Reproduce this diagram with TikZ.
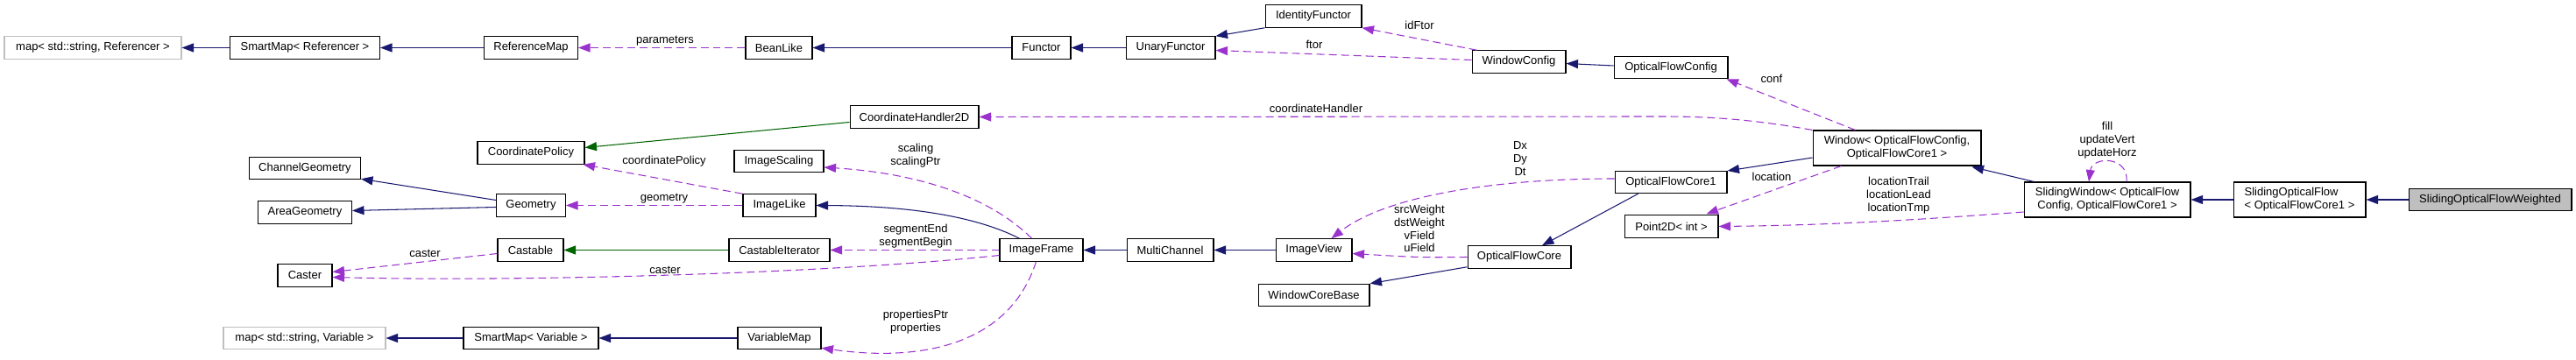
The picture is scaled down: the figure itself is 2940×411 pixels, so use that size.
\documentclass[tikz,border=0pt]{standalone}
\usepackage{fontspec}
\setmainfont{Liberation Sans}
\usepackage{tikz}
\usetikzlibrary{arrows.meta,calc}
\definecolor{edgeblue}{RGB}{25,25,112}
\definecolor{edgepurple}{RGB}{154,50,205}
\definecolor{edgegreen}{RGB}{0,100,0}
\definecolor{boxgrey}{RGB}{191,191,191}
\newcommand{\dxfont}{\fontsize{7.4}{8.4}\selectfont}
\tikzset{
  cls/.style={draw=black, line width=0.6pt, fill=white, inner sep=0pt,
              minimum height=0.51cm, align=center, font=\dxfont},
  extcls/.style={cls, draw=boxgrey},
  focuscls/.style={cls, fill=boxgrey},
  elabel/.style={font=\dxfont, align=center, inner sep=0pt},
  tip/.style={-{Triangle[length=0.27cm,width=0.2cm]}},
  inherit/.style={tip, draw=edgeblue, line width=0.6pt},
  templ/.style={tip, draw=edgegreen, line width=0.6pt},
  member/.style={tip, draw=edgepurple, line width=0.6pt,
                 dash pattern=on 0.18cm off 0.1cm},
}

\begin{document}
\begin{tikzpicture}[x=0.02cm,y=-0.02cm]
  \path[use as bounding box] (0,0) rectangle (2940,411);

  \node[extcls, minimum width=4.04cm] (MAPREF) at (106,54.5) {map< std::string, Referencer >};
  \node[cls, minimum width=3.42cm] (SMREF) at (348,54.5) {SmartMap< Referencer >};
  \node[cls, minimum width=2.14cm] (REFMAP) at (606,54.5) {ReferenceMap};
  \node[cls, minimum width=1.52cm] (BEAN) at (889,54.5) {BeanLike};
  \node[cls, minimum width=1.34cm] (FUNCTOR) at (1188.5,54.5) {Functor};
  \node[cls, minimum width=2.04cm] (UNARY) at (1336,54.5) {UnaryFunctor};
  \node[cls, minimum width=2.2cm] (IDFTOR) at (1499,18.5) {IdentityFunctor};
  \node[cls, minimum width=2.14cm] (WCONFIG) at (1733.5,70.5) {WindowConfig};
  \node[cls, minimum width=2.6cm] (OFCONFIG) at (1907,77) {OpticalFlowConfig};
  \node[cls, minimum width=2.94cm] (CHANDLER) at (1043.5,133.5) {CoordinateHandler2D};
  \node[cls, minimum width=2.44cm] (CPOLICY) at (606,174.5) {CoordinatePolicy};
  \node[cls, minimum width=2.54cm] (CHANGEOM) at (348,192) {ChannelGeometry};
  \node[cls, minimum width=2.14cm] (AREAGEOM) at (348,242.5) {AreaGeometry};
  \node[cls, minimum width=1.58cm] (GEOM) at (606,234.5) {Geometry};
  \node[cls, minimum width=2.04cm] (SCALING) at (889,184) {ImageScaling};
  \node[cls, minimum width=1.66cm] (IMGLIKE) at (889.5,234.5) {ImageLike};
  \node[cls, minimum width=1.24cm] (CASTER) at (348,314.5) {Caster};
  \node[cls, minimum width=1.5cm] (CASTABLE) at (605.5,285.5) {Castable};
  \node[cls, minimum width=2.3cm] (CASTITER) at (889.5,285.5) {CastableIterator};
  \node[extcls, minimum width=3.7cm] (MAPVAR) at (347.5,386) {map< std::string, Variable >};
  \node[cls, minimum width=3.08cm] (SMVAR) at (606,386) {SmartMap< Variable >};
  \node[cls, minimum width=1.9cm] (VARMAP) at (889.5,386) {VariableMap};
  \node[cls, minimum width=1.9cm] (IMGFRAME) at (1188.5,285.5) {ImageFrame};
  \node[cls, minimum width=1.98cm] (MULTI) at (1335.5,285.5) {MultiChannel};
  \node[cls, minimum width=1.74cm] (IMGVIEW) at (1499.5,285.5) {ImageView};
  \node[cls, minimum width=2.54cm] (WCOREBASE) at (1499.5,337) {WindowCoreBase};
  \node[cls, minimum width=2.36cm] (OFCORE) at (1734,293.5) {OpticalFlowCore};
  \node[cls, minimum width=2.56cm] (OFCORE1) at (1907,208) {OpticalFlowCore1};
  \node[cls, minimum width=2.14cm] (POINT) at (1907.5,258.5) {Point2D< int >};
  \node[cls, minimum width=3.84cm, minimum height=0.8cm] (WINDOW) at (2165,169)
    {Window< OpticalFlowConfig,\\OpticalFlowCore1 >};
  \node[cls, minimum width=3.8cm, minimum height=0.8cm] (SLIDWIN) at (2405,228)
    {SlidingWindow< OpticalFlow\\Config, OpticalFlowCore1 >};
  \node[cls, minimum width=3.02cm, minimum height=0.8cm, align=left] (SLIDOF) at (2624.5,228)
    {SlidingOpticalFlow\\< OpticalFlowCore1 >};
  \node[focuscls, minimum width=3.72cm] (WEIGHTED) at (2842,228) {SlidingOpticalFlowWeighted};

  \draw[inherit] (SMREF.west) -- (MAPREF.east);
  \draw[inherit] (REFMAP.west) -- (SMREF.east);
  \draw[member] (BEAN.west) -- (REFMAP.east);
  \node[elabel] (Lparam) at (759,47) {parameters};
  \draw[inherit] (FUNCTOR.west) -- (BEAN.east);
  \draw[inherit] (UNARY.west) -- (FUNCTOR.east);
  \draw[inherit] (IDFTOR.south west) -- (UNARY.north east);
  \draw[member] ($(WCONFIG.north west)+(6,0)$) -- (IDFTOR.south east);
  \node[elabel] (LidFtor) at (1620,29) {idFtor};
  \draw[member] ($(WCONFIG.west)+(0,-2)$) -- ($(UNARY.east)+(0,3)$);
  \node[elabel] (Lftor) at (1500,51) {ftor};
  \draw[inherit] ($(OFCONFIG.west)+(0,-2)$) -- ($(WCONFIG.east)+(0,2)$);
  \draw[member] ($(WINDOW.north west)+(49,0)$) -- ($(OFCONFIG.south east)+(-2,0)$);
  \node[elabel] (Lconf) at (2022,90) {conf};
  \draw[member] (WINDOW.north west) .. controls (2010,138) and (1960,133) .. (1900,133) -- (CHANDLER.east);
  \node[elabel] (Lcoordh) at (1502,124) {coordinateHandler};
  \draw[templ] ($(CHANDLER.west)+(0,6)$) -- ($(CPOLICY.east)+(0,-6)$);
  \draw[member] (IMGLIKE.north west) -- ($(CPOLICY.south east)+(-2,0)$);
  \node[elabel] (Lcpol) at (758,184) {coordinatePolicy};
  \draw[member] (IMGLIKE.west) -- (GEOM.east);
  \node[elabel] (Lgeom) at (758,227) {geometry};
  \draw[inherit] ($(GEOM.west)+(0,-6)$) -- ($(CHANGEOM.south east)+(0,-1)$);
  \draw[inherit] ($(GEOM.west)+(0,2)$) -- ($(AREAGEOM.east)+(0,-2)$);
  \draw[inherit] ($(IMGFRAME.north)+(-25,0)$) .. controls (1110,245) and (1030,235) .. (IMGLIKE.east);
  \draw[member] ($(IMGFRAME.north)+(-11,0)$) .. controls (1130,225) and (1050,198) .. ($(SCALING.east)+(0,7)$);
  \node[elabel] (Lscal) at (1045,178) {scaling\\scalingPtr};
  \draw[member] (IMGFRAME.west) -- (CASTITER.east);
  \node[elabel] (Lseg) at (1045,270) {segmentEnd\\segmentBegin};
  \draw[templ] (CASTITER.west) -- (CASTABLE.east);
  \draw[member] ($(CASTABLE.west)+(0,4)$) -- ($(CASTER.east)+(0,-4)$);
  \node[elabel] (Lcast) at (485,289) {caster};
  \draw[member] ($(IMGFRAME.west)+(0,6)$) .. controls (950,312) and (600,322) .. ($(CASTER.east)+(0,2)$);
  \node[elabel] (Lcastb) at (759,308) {caster};
  \draw[member] ($(IMGFRAME.south)+(-6,0)$) .. controls (1150,400) and (1040,412) .. ($(VARMAP.south east)+(0,-2)$);
  \node[elabel] (Lprop) at (1045,368) {propertiesPtr\\properties};
  \draw[inherit] (VARMAP.west) -- (SMVAR.east);
  \draw[inherit] (SMVAR.west) -- (MAPVAR.east);
  \draw[inherit] (MULTI.west) -- (IMGFRAME.east);
  \draw[inherit] (IMGVIEW.west) -- (MULTI.east);
  \draw[member] ($(OFCORE1.west)+(0,-4)$) .. controls (1700,204) and (1580,225) .. ($(IMGVIEW.north)+(20,0)$);
  \node[elabel] (Ldxyz) at (1735,181) {Dx\\Dy\\Dt};
  \draw[member] (OFCORE.west) .. controls (1620,294) .. ($(IMGVIEW.east)+(0,4)$);
  \node[elabel] (Lweight) at (1620,261) {srcWeight\\dstWeight\\vField\\uField};
  \draw[inherit] ($(OFCORE.south west)+(0,-2)$) -- (WCOREBASE.north east);
  \draw[inherit] ($(OFCORE1.south west)+(27,0)$) -- ($(OFCORE.north)+(26,0)$);
  \draw[inherit] ($(WINDOW.west)+(0,11)$) -- ($(OFCORE1.east)+(0,-13)$);
  \draw[member] ($(WINDOW.south west)+(33,0)$) -- ($(POINT.north east)+(-14,-1)$);
  \node[elabel] (Lloc) at (2022,202) {location};
  \draw[member] ($(SLIDWIN.west)+(0,14)$) .. controls (2200,250) and (2100,257) .. (POINT.east);
  \node[elabel] (Llocs) at (2167,223) {locationTrail\\locationLead\\locationTmp};
  \draw[inherit] ($(SLIDWIN.north west)+(12,0)$) -- ($(WINDOW.south east)+(-11,1)$);
  \draw[member] ($(SLIDWIN.north)+(22,0)$) .. controls (2430,178) and (2388,178) .. ($(SLIDWIN.north)+(-21,0)$);
  \node[elabel] (Lfill) at (2405,160) {fill\\updateVert\\updateHorz};
  \draw[inherit] (SLIDOF.west) -- (SLIDWIN.east);
  \draw[inherit] (WEIGHTED.west) -- (SLIDOF.east);
\end{tikzpicture}
\end{document}
